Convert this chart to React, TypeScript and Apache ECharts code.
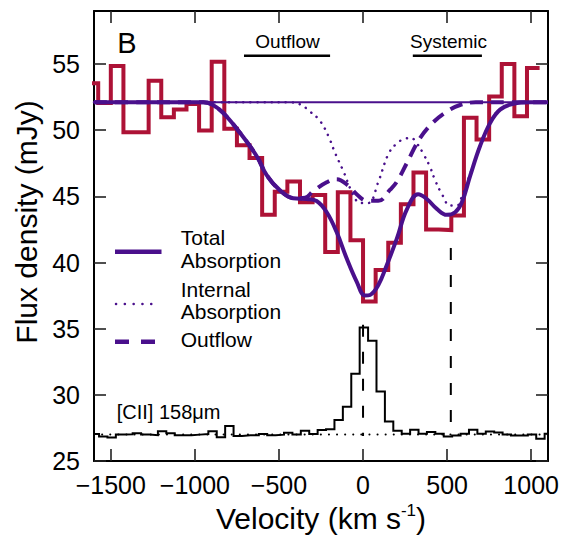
import React, { useEffect, useRef } from 'react';
import * as echarts from 'echarts';

const FONT = '"Liberation Sans", Arial, Helvetica, sans-serif';
const PURPLE = '#4A108C';
const RED = '#AD1236';

// Axes
const xTickValues = [-1500, -1000, -500, 0, 500, 1000];
const yTickValues = [25, 30, 35, 40, 45, 50, 55];
const xRange = [-1600, 1100];
const yRange = [25, 59];

// Observed flux density (red histogram), 75 km/s bins
const fluxBinStart = -1650;
const fluxBinWidth = 75;
const fluxValues = [
  53.55, 52.05, 54.85, 49.85, 49.85, 53.73, 50.97, 51.55, 51.98, 49.98,
  55.17, 50.1, 48.85, 47.9, 43.6, 45.35, 46.13, 44.56, 45.1, 40.8,
  45.3, 41.68, 37.06, 39.43, 41.5, 44.4, 46.8, 42.5, 42.45, 43.55,
  50.93, 49.3, 52.55, 55.0, 51.05, 54.7,
];

// [CII] 158um spectrum (black histogram), 50 km/s bins
const ciiBinStart = -1620;
const ciiBinWidth = 50;
const ciiValues = [
  27.05, 26.85, 26.78, 27.0, 27.02, 27.1, 27.0, 26.95, 27.25, 27.1,
  26.95, 26.95, 27.0, 27.05, 27.25, 26.8, 27.65, 26.9, 26.95, 26.95,
  27.05, 26.95, 27.0, 27.15, 27.0, 27.3, 27.05, 27.35, 27.41, 28.1,
  29.1, 31.6, 35.1, 34.1, 30.26, 28.0, 27.3, 27.06, 27.36, 27.06,
  27.19, 27.06, 26.86, 26.94, 27.06, 27.36, 27.06, 27.24, 27.16, 27.0,
  26.94, 26.94, 27.0, 26.69, 27.06,
];

const continuumLevel = 52.1;
const ciiBaselineLevel = 27.0;

// Model curves
const totalVel = [-1600, -1300, -1000, -950, -900, -832, -732, -633, -573, -494, -415, -335, -276, -216, -157, -97, -38, 12, 42, 91, 141, 201, 260, 327, 379, 439, 498, 548, 588, 637, 696, 756, 815, 895, 994, 1100];
const totalFlux = [52.1, 52.1, 52.1, 52.1, 51.95, 51.3, 49.8, 48.05, 46.6, 45.45, 44.86, 44.8, 44.65, 43.8, 42.3, 40.3, 38.56, 37.5, 37.55, 38.3, 39.8, 41.8, 44.0, 45.15, 44.8, 44.05, 43.6, 43.8, 44.55, 46.55, 48.8, 50.55, 51.55, 52.0, 52.1, 52.1];

const internalVel = [-1600, -500, -450, -375, -315, -256, -206, -167, -117, -58, -18, 32, 91, 151, 201, 250, 286, 320, 359, 399, 429, 468, 518, 558, 588, 637, 696, 756, 815, 895, 994, 1100];
const internalFlux = [52.1, 52.1, 52.1, 51.95, 51.4, 50.7, 49.55, 48.3, 46.9, 45.1, 44.5, 44.5, 46.1, 48.2, 49.0, 49.35, 49.4, 49.0, 48.2, 47.2, 46.2, 45.2, 44.3, 44.3, 45.0, 46.7, 48.85, 50.6, 51.6, 52.0, 52.1, 52.1];

const outflowVel = [-1600, -1300, -1000, -950, -900, -832, -732, -633, -573, -494, -415, -345, -296, -216, -157, -88, -28, 22, 91, 161, 201, 260, 339, 418, 498, 577, 670, 800, 1100];
const outflowFlux = [52.1, 52.1, 52.1, 52.1, 51.95, 51.3, 49.8, 48.05, 46.6, 45.45, 44.86, 44.9, 45.4, 46.06, 46.3, 45.8, 45.04, 44.66, 44.66, 45.5, 46.1, 47.5, 49.4, 50.6, 51.4, 51.9, 52.1, 52.1, 52.1];

// Markers
const zeroMarkerVel = [0, 0];
const zeroMarkerFlux = [35.3, 26.9];
const systemicMarkerVel = [522, 522];
const systemicMarkerFlux = [41.1, 26.9];
const outflowBarVel = [-708, -196];
const systemicBarVel = [296, 707];
const barLevel = 55.62;

function steps(start: number, width: number, values: number[]) {
  const pts: number[][] = [];
  values.forEach((v, i) => {
    const a = start + i * width;
    pts.push([a, v], [a + width, v]);
  });
  return pts;
}
const zip = (xs: number[], ys: number[]) => xs.map((x, i) => [x, ys[i]]);
const fmt = (v: number) => (v < 0 ? '\u2212' + Math.abs(v) : String(v));

export default function App() {
  const ref = useRef<HTMLDivElement>(null);
  useEffect(() => {
    if (!ref.current) return;
    const chart = echarts.init(ref.current, undefined, { renderer: 'svg' });
    const axisLine = { show: true, onZero: false, lineStyle: { color: '#000', width: 2 } };
    const tickStyle = { color: '#222', width: 1.6 };
    const lineBase = { type: 'line' as const, showSymbol: false, symbol: 'none', silent: true, animation: false };
    const txt = (text: string, x: number, y: number, size: number, align = 'left') => ({
      type: 'text', x, y, z: 100,
      style: { text, fontSize: size, fontFamily: FONT, fill: '#000', align, verticalAlign: 'middle' },
    });
    const seg = (x1: number, y1: number, x2: number, y2: number, stroke: string, width: number, dash?: number[], cap = 'butt') => ({
      type: 'line', z: 100,
      shape: { x1, y1, x2, y2 },
      style: { stroke, lineWidth: width, lineDash: dash, lineCap: cap },
    });

    chart.setOption({
      animation: false,
      backgroundColor: '#fff',
      grid: { left: 94, right: 14, top: 11, bottom: 74, containLabel: false },
      xAxis: [
        {
          type: 'value', min: xRange[0], max: xRange[1], position: 'bottom',
          axisLine,
          axisTick: { show: true, inside: true, length: 12, customValues: xTickValues, lineStyle: tickStyle },
          axisLabel: { customValues: xTickValues, formatter: fmt, fontSize: 25, fontFamily: FONT, color: '#000', margin: 11 },
          splitLine: { show: false },
          name: 'Velocity (km s{sup|-1})',
          nameLocation: 'middle',
          nameGap: 40,
          nameTextStyle: {
            fontSize: 30, fontFamily: FONT, color: '#000', lineHeight: 32,
            rich: { sup: { fontSize: 17, fontFamily: FONT, color: '#000', verticalAlign: 'top', lineHeight: 18 } },
          },
        },
        {
          type: 'value', min: xRange[0], max: xRange[1], position: 'top',
          axisLine,
          axisTick: { show: true, inside: true, length: 12, customValues: xTickValues, lineStyle: tickStyle },
          axisLabel: { show: false },
          splitLine: { show: false },
        },
      ],
      yAxis: [
        {
          type: 'value', min: yRange[0], max: yRange[1], position: 'left',
          axisLine,
          axisTick: { show: true, inside: true, length: 12, customValues: yTickValues, lineStyle: tickStyle },
          axisLabel: { customValues: yTickValues, fontSize: 25, fontFamily: FONT, color: '#000', margin: 14 },
          splitLine: { show: false },
        },
        {
          type: 'value', min: yRange[0], max: yRange[1], position: 'right',
          axisLine,
          axisTick: { show: true, inside: true, length: 12, customValues: yTickValues, lineStyle: tickStyle },
          axisLabel: { show: false },
          splitLine: { show: false },
        },
      ],
      series: [
        { ...lineBase, name: 'Flux', data: steps(fluxBinStart, fluxBinWidth, fluxValues), lineStyle: { color: RED, width: 4, join: 'miter' }, z: 2 },
        { ...lineBase, name: 'Continuum', data: [[xRange[0], continuumLevel], [xRange[1], continuumLevel]], lineStyle: { color: PURPLE, width: 2 }, z: 3 },
        { ...lineBase, name: 'Internal Absorption', data: zip(internalVel, internalFlux), smooth: 0.4, lineStyle: { color: PURPLE, width: 2.5, type: [0.1, 7], cap: 'round' }, z: 3 },
        { ...lineBase, name: 'Outflow', data: zip(outflowVel, outflowFlux), smooth: 0.4, lineStyle: { color: PURPLE, width: 4, type: [13, 8] }, z: 3 },
        { ...lineBase, name: 'Total Absorption', data: zip(totalVel, totalFlux), smooth: 0.4, lineStyle: { color: PURPLE, width: 4 }, z: 4 },
        { ...lineBase, name: '[CII] baseline', data: [[xRange[0], ciiBaselineLevel], [xRange[1], ciiBaselineLevel]], lineStyle: { color: '#000', width: 2, type: [0.1, 8], cap: 'round' }, z: 2 },
        { ...lineBase, name: '[CII]', data: steps(ciiBinStart, ciiBinWidth, ciiValues), lineStyle: { color: '#000', width: 2, join: 'miter' }, z: 3 },
        { ...lineBase, name: 'zero marker', data: zip(zeroMarkerVel, zeroMarkerFlux), lineStyle: { color: '#000', width: 2, type: [12, 15] }, z: 3 },
        { ...lineBase, name: 'systemic marker', data: zip(systemicMarkerVel, systemicMarkerFlux), lineStyle: { color: '#000', width: 2, type: [12, 15] }, z: 3 },
        { ...lineBase, name: 'Outflow bar', data: outflowBarVel.map((v) => [v, barLevel]), lineStyle: { color: '#000', width: 2.5 }, z: 3 },
        { ...lineBase, name: 'Systemic bar', data: systemicBarVel.map((v) => [v, barLevel]), lineStyle: { color: '#000', width: 2.5 }, z: 3 },
      ],
      graphic: [
        {
          type: 'text', x: 26, y: 222, rotation: Math.PI / 2, z: 100,
          style: { text: 'Flux density (mJy)', fontSize: 30, fontFamily: FONT, fill: '#000', align: 'center', verticalAlign: 'middle' },
        },
        txt('B', 127, 43, 29, 'center'),
        txt('Outflow', 287.5, 41, 19, 'center'),
        txt('Systemic', 448.5, 41, 19, 'center'),
        seg(115, 251.7, 161.5, 251.7, PURPLE, 4.5),
        txt('Total', 180.7, 237.5, 21),
        txt('Absorption', 180.7, 260.5, 21),
        seg(116, 304, 156, 304, PURPLE, 2.5, [0.1, 8.7], 'round'),
        txt('Internal', 180.7, 289, 21),
        txt('Absorption', 180.7, 311, 21),
        seg(115, 341.7, 156, 341.7, PURPLE, 4.5, [14, 12]),
        txt('Outflow', 180.7, 339, 21),
        txt('[CII] 158\u03bcm', 116.7, 411.5, 20),
      ],
    });
    return () => chart.dispose();
  }, []);
  return <div ref={ref} style={{ position: 'fixed', left: 0, top: 0, width: 562, height: 539, background: '#fff' }} />;
}
